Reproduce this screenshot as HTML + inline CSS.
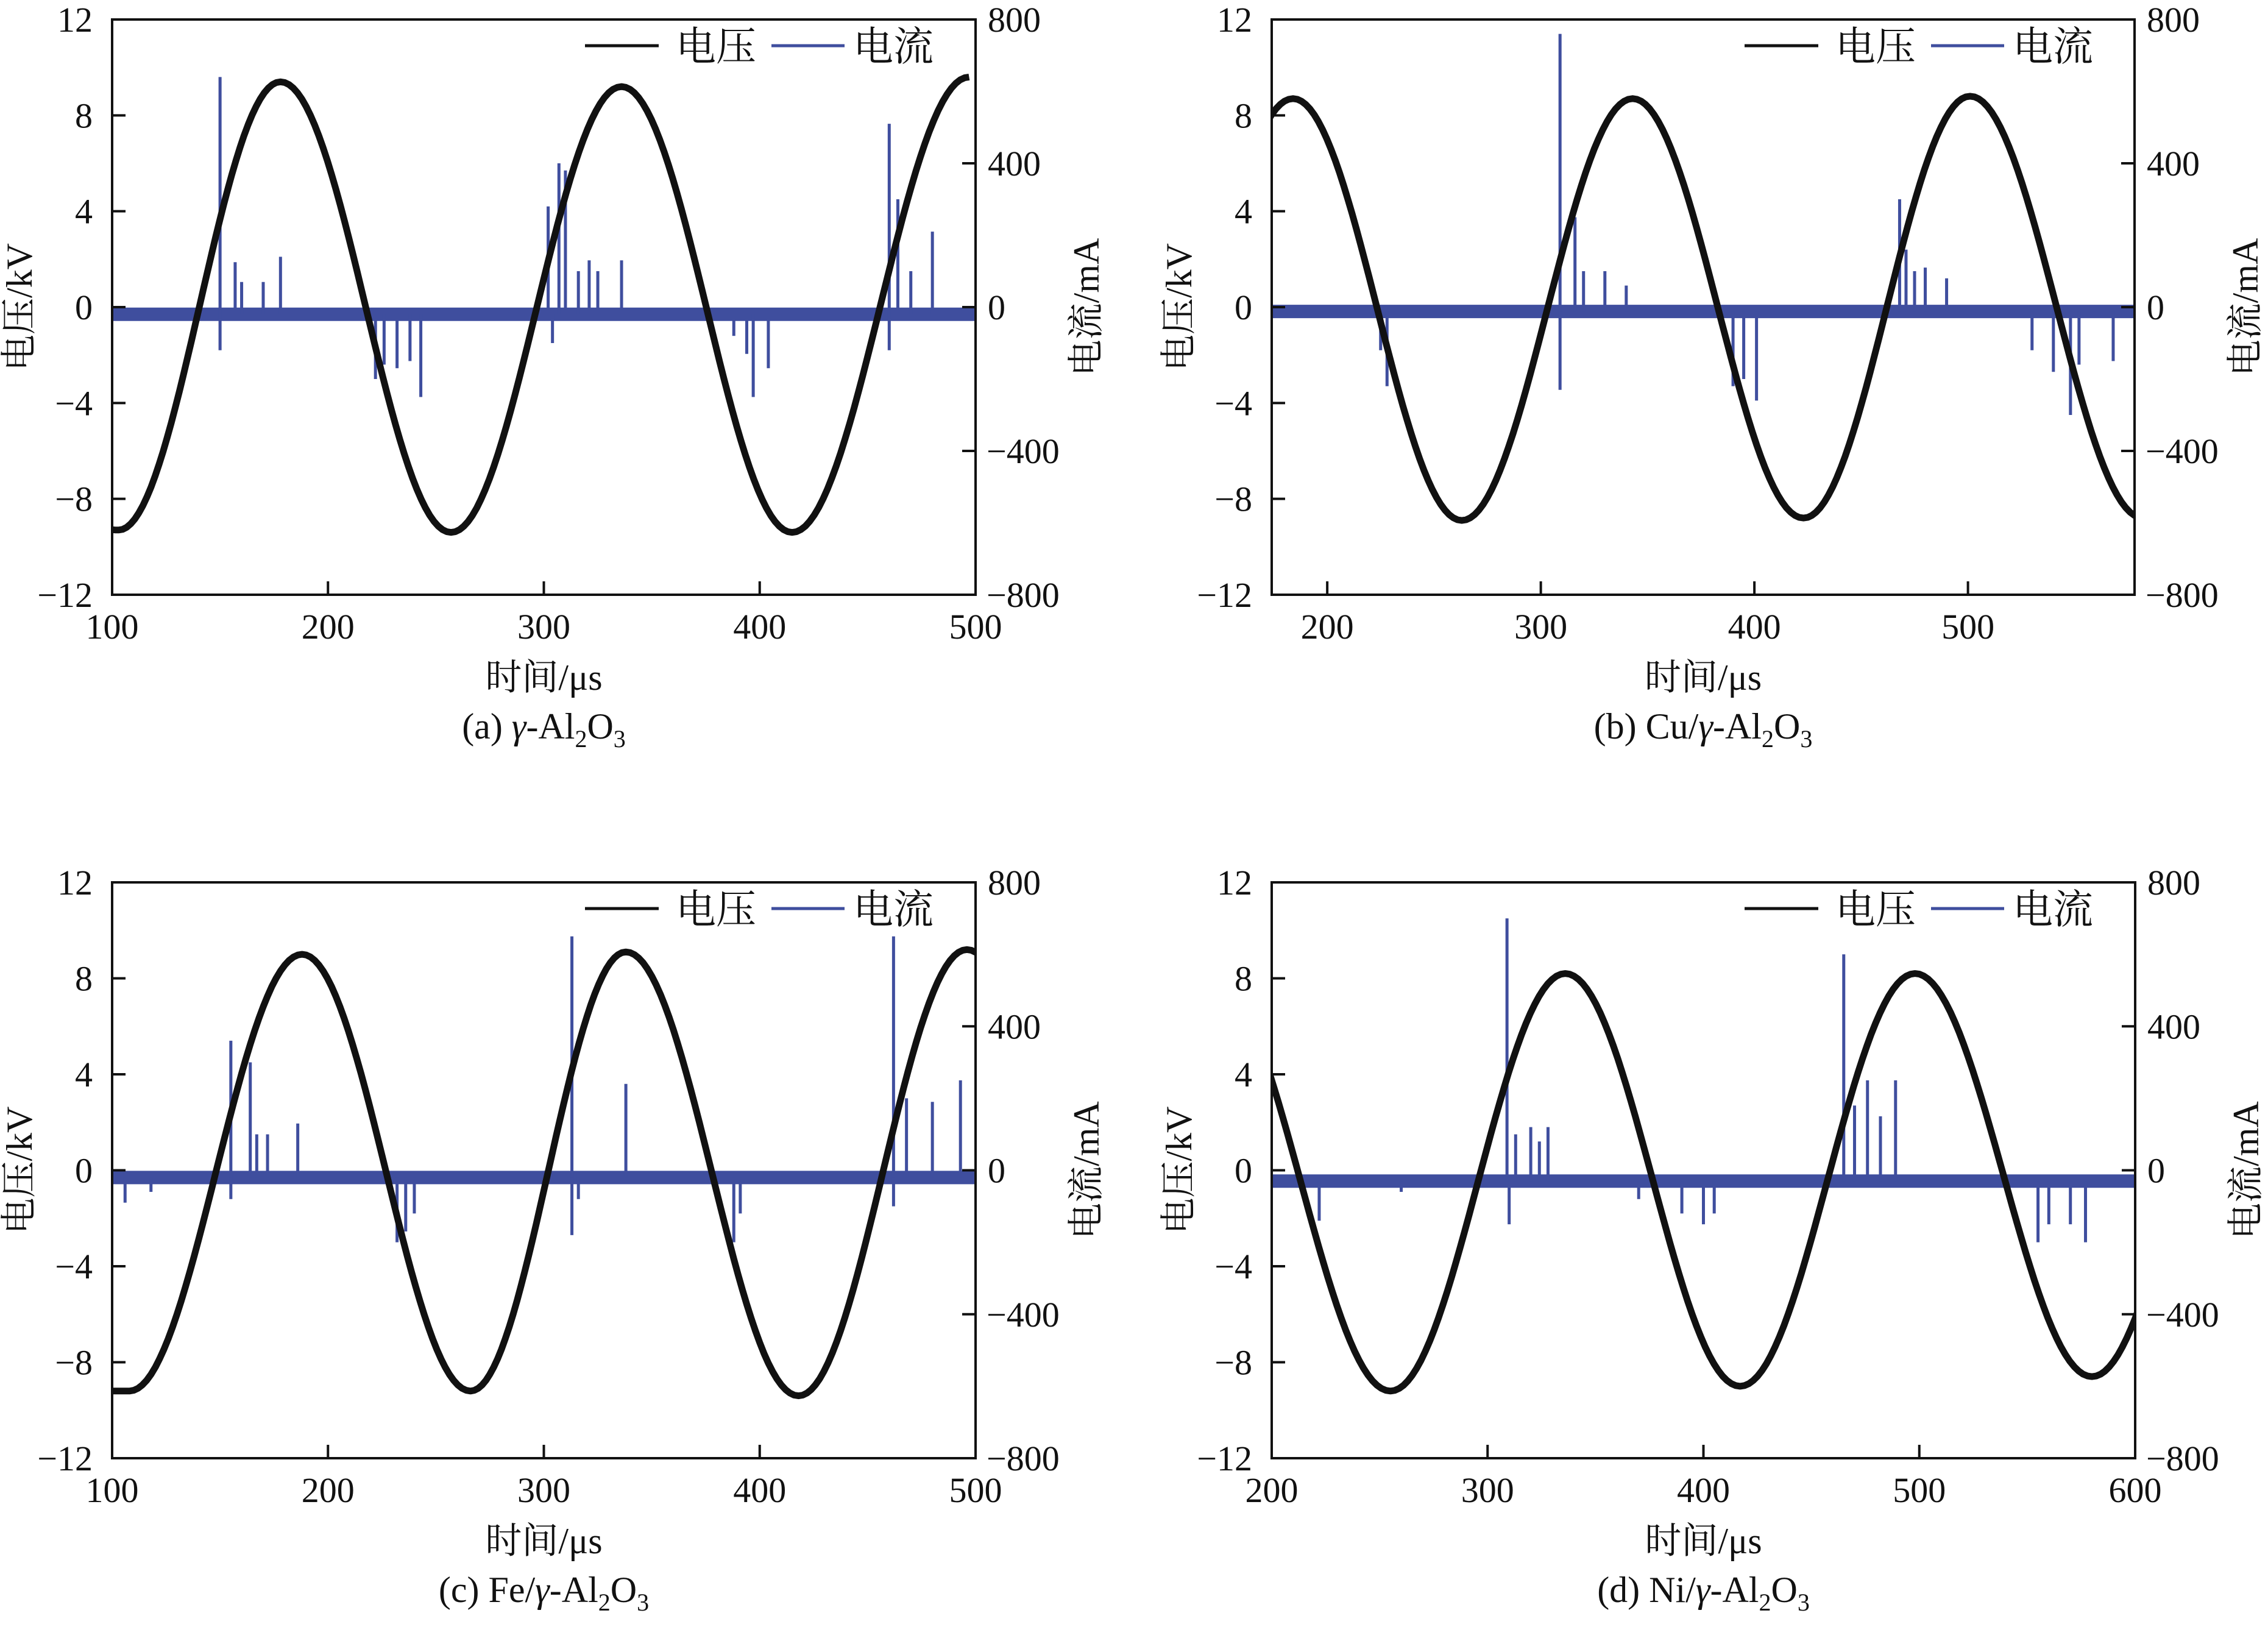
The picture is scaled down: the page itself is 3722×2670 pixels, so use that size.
<!DOCTYPE html>
<html><head><meta charset="utf-8">
<style>
html,body{margin:0;padding:0;background:#fff;}
svg{display:block;}
text{font-family:"Liberation Serif","Noto Serif CJK SC","Noto Sans CJK SC",serif;fill:#111;}
</style></head>
<body>
<svg id="fig" width="3722" height="2670" viewBox="0 0 3722 2670" xmlns="http://www.w3.org/2000/svg"></svg>
<script>
// ---- Panel data ----
// voltage extrema (time µs, kV)
const extA = [[90,-9.2],[103,-9.3],[178,9.4],[257,-9.4],[336,9.2],[415,-9.4],[497,9.6]];
const extB = [[104,-8.8],[184,8.7],[263,-8.9],[343,8.7],[423,-8.8],[501,8.8],[582,-8.8]];
const extC = [[95,-9.2],[108,-9.2],[188,9.0],[266,-9.2],[338,9.1],[418,-9.4],[496,9.2],[576,-9.2]];
const extD = [[172,8.2],[255,-9.2],[336,8.2],[417,-9.0],[498,8.2],[580,-8.6],[660,8.0]];
// current spikes (time µs, mA)
const spkA = [[150,640],[150,-120],[157,125],[160,70],[170,70],[178,140],[222,-200],[226,-160],[232,-170],[238,-150],[243,-250],[302,280],[304,-100],[307,400],[310,380],[316,100],[321,130],[325,100],[336,130],[388,-80],[394,-130],[397,-250],[404,-170],[460,510],[460,-120],[464,300],[470,100],[480,210]];
const spkB = [[309,760],[309,-230],[316,250],[320,100],[330,100],[340,60],[225,-120],[228,-220],[390,-220],[395,-200],[401,-260],[468,300],[471,160],[475,100],[480,110],[490,80],[530,-120],[540,-180],[548,-300],[552,-160],[568,-150]];
const spkC = [[106,-90],[118,-60],[155,360],[155,-80],[164,300],[167,100],[172,100],[186,130],[232,-200],[236,-170],[240,-120],[313,650],[313,-180],[316,-80],[338,240],[388,-200],[391,-120],[462,650],[462,-100],[468,200],[480,190],[493,250]];
const spkD = [[222,-140],[260,-60],[309,700],[310,-150],[313,100],[320,120],[324,80],[328,120],[370,-80],[390,-120],[400,-150],[405,-120],[465,600],[470,180],[476,250],[482,150],[489,250],[500,-40],[555,-200],[560,-150],[570,-150],[577,-200]];
const baseA = -20, baseB = -12, baseC = -20, baseD = -30;
const xTicksA = [100,200,300,400,500];
const xTicksB = [200,300,400,500];
const xTicksD = [200,300,400,500,600];
const vTicks = [-12,-8,-4,0,4,8,12];
const iTicks = [-800,-400,0,400,800];
const captions = ["(a) ","(b) Cu/","(c) Fe/","(d) Ni/"];

const NS = "http://www.w3.org/2000/svg";
const svg = document.getElementById('fig');
function mk(tag, attrs, parent){
  const e = document.createElementNS(NS, tag);
  for (const k in attrs) e.setAttribute(k, attrs[k]);
  (parent||svg).appendChild(e);
  return e;
}
const BLUE = "#3f4e9e";

function panel(id, L, T, R, B, xmin, xmax, xticks, ext, spk, base, cap){
  const g = mk('g', {});
  
  
  const xs = t => L + (t - xmin) / (xmax - xmin) * (R - L);
  const yv = v => B - (v + 12) / 24 * (B - T);
  const yi = i => B - (i + 800) / 1600 * (B - T);
  const cid = 'clip' + id;
  const cp = mk('clipPath', {id: cid}, g);
  mk('rect', {x: L, y: T, width: R - L, height: B - T}, cp);
  const plot = mk('g', {'clip-path': 'url(#' + cid + ')'}, g);

  const band = mk('line', {x1: L, x2: R, y1: yi(base), y2: yi(base), stroke: BLUE, 'stroke-width': 22}, plot);
  
  
  spk.forEach(s => {
    const l = mk('line', {x1: xs(s[0]), x2: xs(s[0]), y1: yi(base), y2: yi(s[1]), stroke: BLUE, 'stroke-width': 5}, plot);
    
    
  });
  let d = '';
  for (let k = 0; k < ext.length - 1; k++){
    const [t0, v0] = ext[k], [t1, v1] = ext[k + 1];
    for (let s = 0; s <= 40; s++){
      const f = s / 40, t = t0 + (t1 - t0) * f;
      const v = v0 + (v1 - v0) * (1 - Math.cos(Math.PI * f)) / 2;
      d += (d ? 'L' : 'M') + xs(t).toFixed(1) + ',' + yv(v).toFixed(1);
    }
  }
  const vp = mk('path', {d: d, fill: 'none', stroke: '#111', 'stroke-width': 11, 'stroke-linejoin': 'round'}, plot);
  
  

  const fr = mk('rect', {x: L, y: T, width: R - L, height: B - T, fill: 'none', stroke: '#111', 'stroke-width': 4}, g);
  
  

  vTicks.forEach(v => {
    const y = yv(v);
    if (v > -12 && v < 12) mk('line', {x1: L, x2: L + 22, y1: y, y2: y, stroke: '#111', 'stroke-width': 4}, g);
    const tx = mk('text', {x: L - 32, y: y + 20, 'font-size': 58, 'text-anchor': 'end'}, g);
    tx.textContent = v < 0 ? '\u2212' + (-v) : '' + v;
    
    
  });
  iTicks.forEach(i => {
    const y = yi(i);
    if (i > -800 && i < 800) mk('line', {x1: R, x2: R - 22, y1: y, y2: y, stroke: '#111', 'stroke-width': 4}, g);
    const tx = mk('text', {x: i < 0 ? R + 18 : R + 20, y: y + 20, 'font-size': 58}, g);
    tx.textContent = i < 0 ? '\u2212' + (-i) : '' + i;
    
    
  });
  xticks.forEach(t => {
    const x = xs(t);
    if (x > L + 3 && x < R - 3) mk('line', {x1: x, x2: x, y1: B, y2: B - 22, stroke: '#111', 'stroke-width': 4}, g);
    const tx = mk('text', {x: x, y: B + 72, 'font-size': 58, 'text-anchor': 'middle'}, g);
    tx.textContent = '' + t;
    
    
  });
  const cy = (T + B) / 2;
  const yl = mk('text', {x: 0, y: 0, 'font-size': 60, 'text-anchor': 'middle', transform: 'translate(' + (L - 132) + ',' + cy + ') rotate(-90)'}, g);
  yl.textContent = '电压/kV';
  
  
  const yr = mk('text', {x: 0, y: 0, 'font-size': 60, 'text-anchor': 'middle', transform: 'translate(' + (R + 202) + ',' + cy + ') rotate(-90)'}, g);
  yr.textContent = '电流/mA';
  
  
  const cx = (L + R) / 2;
  const xt = mk('text', {x: cx, y: B + 156, 'font-size': 60, 'text-anchor': 'middle'}, g);
  xt.textContent = '时间/μs';
  
  
  const ct = mk('text', {x: cx, y: B + 236, 'font-size': 60, 'text-anchor': 'middle'}, g);
  
  
  ct.innerHTML = cap + '<tspan font-style="italic">γ</tspan>-Al<tspan font-size="40" dy="14">2</tspan><tspan dy="-14">O</tspan><tspan font-size="40" dy="14">3</tspan>';

  const lg = mk('g', {}, g);
  
  
  const ly = T + 43;
  mk('line', {x1: L + 776, x2: L + 897, y1: ly, y2: ly, stroke: '#111', 'stroke-width': 5}, lg);
  const t1 = mk('text', {x: L + 925, y: ly + 24, 'font-size': 66, 'font-family': '"Noto Serif CJK SC","Noto Sans CJK SC",serif'}, lg);
  t1.textContent = '电压';
  
  
  mk('line', {x1: L + 1082, x2: L + 1202, y1: ly, y2: ly, stroke: BLUE, 'stroke-width': 5}, lg);
  const t2 = mk('text', {x: L + 1216, y: ly + 24, 'font-size': 66, 'font-family': '"Noto Serif CJK SC","Noto Sans CJK SC",serif'}, lg);
  t2.textContent = '电流';
  
  
}

panel('a', 184, 32, 1601, 976, 100, 500, xTicksA, extA, spkA, baseA, captions[0]);
panel('b', 2087, 32, 3503, 976, 174, 578, xTicksB, extB, spkB, baseB, captions[1]);
panel('c', 184, 1448, 1601, 2393, 100, 500, xTicksA, extC, spkC, baseC, captions[2]);
panel('d', 2087, 1448, 3504, 2393, 200, 600, xTicksD, extD, spkD, baseD, captions[3]);
</script>
</body></html>
